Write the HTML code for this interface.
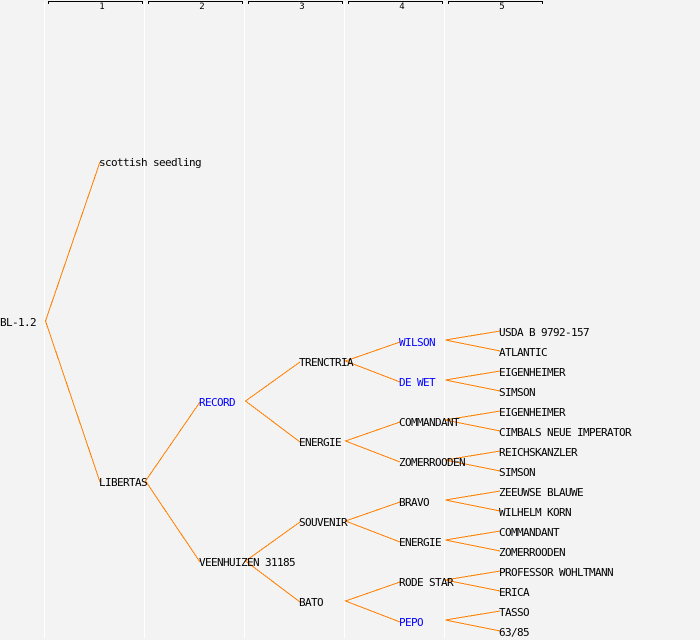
<!DOCTYPE html>
<html><head><meta charset="utf-8">
<style>
html,body{margin:0;padding:0;background:#f3f3f3;width:700px;height:640px;overflow:hidden}
svg{display:block}
text{font-family:"DejaVu Sans Mono","Liberation Mono",monospace;font-size:11px;letter-spacing:-0.62px;fill:#000}
.b{fill:#0000ff}
.h{font-size:9px;letter-spacing:0;text-anchor:middle}
.v{stroke:#fff;stroke-width:1;shape-rendering:crispEdges}
.k{stroke:#000;stroke-width:1;fill:none;shape-rendering:crispEdges}
.e{stroke:#ff8000;stroke-width:1;fill:none;shape-rendering:crispEdges}
</style></head><body>
<svg width="700" height="640" viewBox="0 0 700 640" xmlns="http://www.w3.org/2000/svg">
<rect width="700" height="640" fill="#f3f3f3"/>
<path class="v" d="M44.5 1V638M144.5 1V638M244.5 1V638M344.5 1V638M444.5 1V638"/>
<path class="k" d="M48.5 4V1.5H142.5V4M148.5 4V1.5H242.5V4M248.5 4V1.5H342.5V4M348.5 4V1.5H442.5V4M448.5 4V1.5H542.5V4"/>
<text class="h" x="102" y="9">1</text><text class="h" x="202" y="9">2</text><text class="h" x="302" y="9">3</text><text class="h" x="402" y="9">4</text><text class="h" x="502" y="9">5</text>
<path class="e" d="M100 162L45.5 321L100 482M200 402L145.5 481L200 562M300 362L245.5 401L300 442M300 522L245.5 561L300 602
M400 342L345.5 361L400 382M400 422L345.5 441L400 462M400 502L345.5 521L400 542M400 582L345.5 601L400 622
M500 331L445.5 340L500 351M500 371L445.5 380L500 391M500 411L445.5 420L500 431M500 451L445.5 460L500 471M500 491L445.5 500L500 511M500 531L445.5 540L500 551M500 571L445.5 580L500 591M500 611L445.5 620L500 631"/>
<text x="0" y="326">BL-1.2</text>
<text x="99" y="166">scottish seedling</text>
<text x="99" y="486">LIBERTAS</text>
<text class="b" x="199" y="406">RECORD</text>
<text x="199" y="566">VEENHUIZEN 31185</text>
<text x="299" y="366">TRENCTRIA</text>
<text x="299" y="446">ENERGIE</text>
<text x="299" y="526">SOUVENIR</text>
<text x="299" y="606">BATO</text>
<text class="b" x="399" y="346">WILSON</text>
<text class="b" x="399" y="386">DE WET</text>
<text x="399" y="426">COMMANDANT</text>
<text x="399" y="466">ZOMERROODEN</text>
<text x="399" y="506">BRAVO</text>
<text x="399" y="546">ENERGIE</text>
<text x="399" y="586">RODE STAR</text>
<text class="b" x="399" y="626">PEPO</text>
<text x="499" y="336">USDA B 9792-157</text>
<text x="499" y="356">ATLANTIC</text>
<text x="499" y="376">EIGENHEIMER</text>
<text x="499" y="396">SIMSON</text>
<text x="499" y="416">EIGENHEIMER</text>
<text x="499" y="436">CIMBALS NEUE IMPERATOR</text>
<text x="499" y="456">REICHSKANZLER</text>
<text x="499" y="476">SIMSON</text>
<text x="499" y="496">ZEEUWSE BLAUWE</text>
<text x="499" y="516">WILHELM KORN</text>
<text x="499" y="536">COMMANDANT</text>
<text x="499" y="556">ZOMERROODEN</text>
<text x="499" y="576">PROFESSOR WOHLTMANN</text>
<text x="499" y="596">ERICA</text>
<text x="499" y="616">TASSO</text>
<text x="499" y="636">63/85</text>
</svg>
</body></html>
